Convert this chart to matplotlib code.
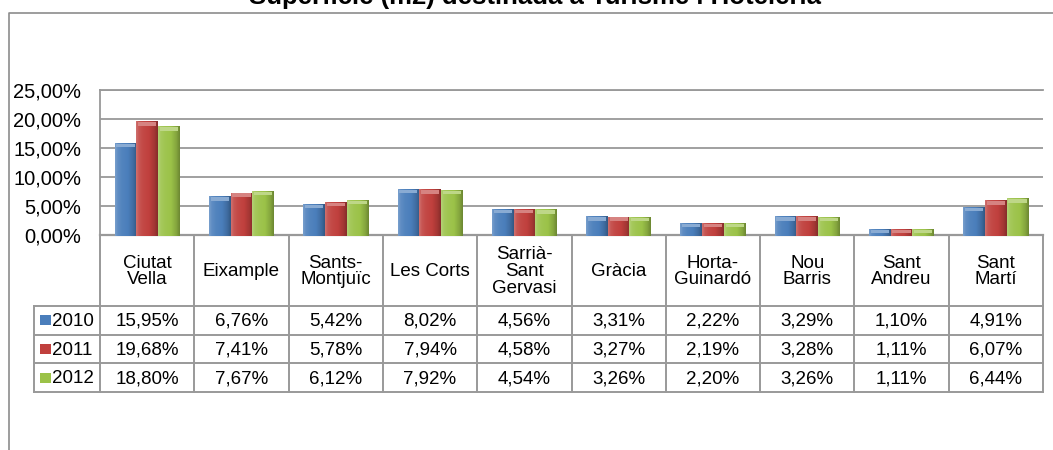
import numpy as np
import matplotlib
matplotlib.use('Agg')
import matplotlib.pyplot as plt
from matplotlib.colors import to_rgb
from matplotlib.patches import Rectangle
from matplotlib.lines import Line2D

plt.rcParams['font.family'] = ['Liberation Sans', 'DejaVu Sans']

title = 'Superfície (m2) destinada a Turisme i Hoteleria'
districts = ['Ciutat\nVella', 'Eixample', 'Sants-\nMontjuïc', 'Les Corts', 'Sarrià-\nSant\nGervasi',
             'Gràcia', 'Horta-\nGuinardó', 'Nou\nBarris', 'Sant\nAndreu', 'Sant\nMartí']
years = ['2010', '2011', '2012']
v2010 = [15.95, 6.76, 5.42, 8.02, 4.56, 3.31, 2.22, 3.29, 1.10, 4.91]
v2011 = [19.68, 7.41, 5.78, 7.94, 4.58, 3.27, 2.19, 3.28, 1.11, 6.07]
v2012 = [18.80, 7.67, 6.12, 7.92, 4.54, 3.26, 2.20, 3.26, 1.11, 6.44]
series = [v2010, v2011, v2012]
colors = ['#4a7ebb', '#c0403d', '#9bc248']
yticks = [0, 5, 10, 15, 20, 25]

W, H = 1053, 450
fig = plt.figure(figsize=(W / 100, H / 100), dpi=100)
fs = 13.5

def fx(px):
    return px / W

def fy(py):
    return 1 - py / H

# outer chart frame (title sits above it, cut by the top edge)
fig.add_artist(Line2D([fx(9), fx(9), 1.0], [0.0, fy(13), fy(13)], color='#8c8c8c', lw=1.2))
fig.text(fx(535), fy(4), title, ha='center', va='baseline', fontsize=18.5, fontweight='bold')

plot_l, plot_r, plot_t, plot_b = 100, 1043, 90, 235
ax = fig.add_axes([fx(plot_l), fy(plot_b), fx(plot_r - plot_l), (plot_b - plot_t) / H])
n = len(districts)
x = np.arange(n)
bw = 0.23

def shade(c, f):
    r = np.array(to_rgb(c))
    if f >= 1:
        return r + (1 - r) * (f - 1)
    return r * f

prof_pos = [0, 0.12, 0.3, 0.6, 0.85, 1.0]
prof_f = [1.25, 1.12, 1.05, 1.0, 0.85, 0.7]
for k, vals in enumerate(series):
    xs = x + (k - 1) * bw
    bars = ax.bar(xs, np.array(vals) / 100, bw, bottom=-0.0025, color=colors[k], zorder=3,
                  clip_on=False)
    for b in bars:
        x0, w, h = b.get_x(), b.get_width(), b.get_height()
        y0 = b.get_y()
        t = np.linspace(0, 1, 40)
        f = np.interp(t, prof_pos, prof_f)
        grad = np.array([shade(colors[k], fi) for fi in f])[None, :, :]
        im = ax.imshow(grad, extent=[x0, x0 + w, y0, y0 + h], aspect='auto', zorder=4,
                       interpolation='bilinear', clip_on=False)
        im.set_clip_path(b)
        cap = min(0.006, h * 0.5)
        ax.add_patch(Rectangle((x0 + w * 0.08, y0 + h - cap), w * 0.84, cap,
                               color=shade(colors[k], 1.35), zorder=5, lw=0))

ax.set_xlim(-0.5, n - 0.5)
ax.set_ylim(0, 0.25)
ax.set_yticks([v / 100 for v in yticks])
ax.set_yticklabels(['%d,00%%' % v for v in yticks], fontsize=14.5)
ax.tick_params(axis='y', length=0, pad=13.5)
ax.set_xticks([])
ax.yaxis.grid(True, color='#999999', lw=1.3, zorder=0)
for s in ['right', 'bottom']:
    ax.spines[s].set_visible(False)
ax.spines['top'].set_color('#999999')
ax.spines['top'].set_linewidth(1.3)
ax.spines['left'].set_color('#999999')
ax.spines['left'].set_linewidth(1.3)
ax.axhline(0, color='#999999', lw=1.6, zorder=2, clip_on=False)

# data table under the chart
tab_l, tab_top, head_b = 34, 235, 306
row_h = 28.7
tab_b = head_b + row_h * len(years)
tx = fig.add_axes([0, 0, 1, 1], facecolor='none')
tx.set_xlim(0, W)
tx.set_ylim(H, 0)
tx.axis('off')
lc = '#999999'
col_w = (plot_r - plot_l) / n
edges = [plot_l + i * col_w for i in range(n + 1)]
for e in edges:
    tx.plot([e, e], [tab_top, tab_b], color=lc, lw=1.4)
tx.plot([tab_l, tab_l], [head_b, tab_b], color=lc, lw=1.4)
for r in range(len(years) + 1):
    yy = head_b + r * row_h
    tx.plot([tab_l, plot_r], [yy, yy], color=lc, lw=1.4)
for i, name in enumerate(districts):
    cx = (edges[i] + edges[i + 1]) / 2
    tx.text(cx, (tab_top + head_b) / 2 + 1, name, ha='center', va='center',
            fontsize=fs, linespacing=1.0)
for r, yr in enumerate(years):
    cy = head_b + (r + 0.5) * row_h
    tx.add_patch(Rectangle((40, cy - 5), 11, 10, color=colors[r], lw=0))
    tx.text(52, cy + 1, yr, ha='left', va='center', fontsize=fs)
    for i, v in enumerate(series[r]):
        cx = (edges[i] + edges[i + 1]) / 2
        tx.text(cx, cy + 1, ('%.2f%%' % v).replace('.', ','), ha='center', va='center',
                fontsize=fs)

fig.savefig('out.png', dpi=100)
